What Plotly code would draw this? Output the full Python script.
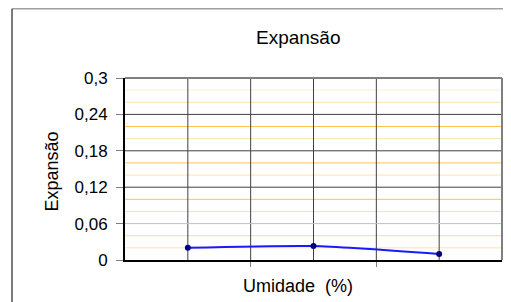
import plotly.graph_objects as go

# Data
categories = [0.5, 1.5, 2.5]          # three moisture samples (no x labels shown)
expansao = [0.020, 0.023, 0.010]
y_ticks = [0, 0.06, 0.12, 0.18, 0.24, 0.3]
y_tick_labels = ["0", "0,06", "0,12", "0,18", "0,24", "0,3"]
minor_lines = [0.02, 0.04, 0.08, 0.10, 0.14, 0.16, 0.20, 0.22, 0.26, 0.28]
minor_colors = ["#ffe2b0", "#ffd898", "#ffe2b0", "#ffc44c", "#ffe2b0", "#ffc44c",
                "#ffe2b0", "#ffc44c", "#ffe2b0", "#ffedd0"]
v_grid = [0.5, 1.0, 1.5, 2.0, 2.5]

FONT = "Liberation Sans, Arial, sans-serif"

fig = go.Figure()
fig.add_trace(go.Scatter(
    x=categories, y=expansao, mode="lines+markers",
    line=dict(color="#1a1aff", width=2, shape="spline", smoothing=0.6),
    marker=dict(color="#000080", size=6),
    showlegend=False,
))

shapes = []
for v, c in zip(minor_lines, minor_colors):
    shapes.append(dict(type="line", xref="paper", yref="y", x0=0, x1=1, y0=v, y1=v,
                       line=dict(color=c, width=1), layer="below"))
for v in v_grid:
    shapes.append(dict(type="line", xref="x", yref="paper", x0=v, x1=v, y0=0, y1=1,
                       line=dict(color="#404040", width=1), layer="below"))
for v in y_ticks[2:-1]:
    shapes.append(dict(type="line", xref="paper", yref="y", x0=0, x1=1, y0=v, y1=v,
                       line=dict(color="#404040", width=1), layer="below"))
shapes.append(dict(type="line", xref="paper", yref="y", x0=0, x1=1, y0=0.06, y1=0.06,
                   line=dict(color="#c0c0c0", width=1), layer="below"))
# plot-area frame top/right in gray
shapes.append(dict(type="line", xref="paper", yref="paper", x0=0, x1=1, y0=1, y1=1,
                   line=dict(color="#808080", width=2)))
shapes.append(dict(type="line", xref="paper", yref="paper", x0=1, x1=1, y0=0, y1=1,
                   line=dict(color="#808080", width=2)))
# chart-area border (partially visible)
shapes.append(dict(type="line", xref="paper", yref="paper", x0=-0.2997, x1=1.1, y0=1.381, y1=1.381,
                   line=dict(color="#a0a0a0", width=1.5)))
shapes.append(dict(type="line", xref="paper", yref="paper", x0=-0.2997, x1=-0.2997, y0=1.381, y1=-0.25,
                   line=dict(color="#505050", width=1.5)))

fig.update_layout(
    width=503, height=294,
    margin=dict(l=117, r=9, t=70, b=42),
    paper_bgcolor="white", plot_bgcolor="white",
    font=dict(family=FONT, size=18, color="black"),
    shapes=shapes,
    xaxis=dict(range=[0, 3], showgrid=False, zeroline=False,
               tickvals=[1, 2], ticktext=["", ""], ticks="outside", ticklen=5,
               tickcolor="#808080", showline=True, linecolor="black", linewidth=2),
    yaxis=dict(range=[0, 0.3], tickvals=y_ticks, ticktext=y_tick_labels,
               showgrid=False, zeroline=False, ticks="outside", ticklen=7,
               ticklabelstandoff=5,
               tickcolor="#808080", showline=True, linecolor="black", linewidth=2,
               tickfont=dict(size=17)),
    annotations=[
        dict(text="Expansão", xref="paper", yref="paper", x=0.459, y=1.22,
             xanchor="center", yanchor="middle",
             showarrow=False, font=dict(size=19)),
        dict(text="Umidade  (%)", xref="paper", yref="paper", x=0.459, y=-0.143,
             xanchor="center", yanchor="middle",
             showarrow=False, font=dict(size=18)),
        dict(text="Expansão", xref="paper", yref="paper", x=-0.194, y=0.485,
             xanchor="center", yanchor="middle",
             showarrow=False, textangle=-90, font=dict(size=18)),
    ],
)

fig.write_html("out.html")
